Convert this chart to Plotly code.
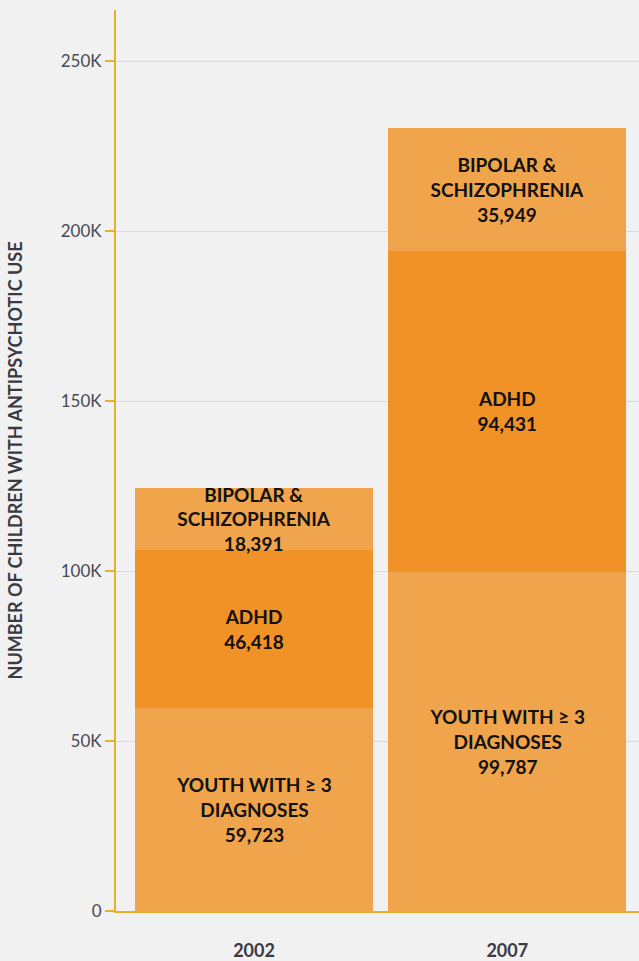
import plotly.graph_objects as go

years = ["2002", "2007"]
youth = [59723, 99787]
adhd = [46418, 94431]
bipolar = [18391, 35949]
tick_vals = [0, 50000, 100000, 150000, 200000, 250000]
tick_text = ["0", "50K", "100K", "150K", "200K", "250K"]

light = "#f0a44b"
dark = "#f09226"
FONT = "Lato"

def fmt(v):
    return f"{v:,}"

series = [
    ("YOUTH WITH ≥ 3<br>DIAGNOSES", youth, light),
    ("ADHD", adhd, dark),
    ("BIPOLAR &<br>SCHIZOPHRENIA", bipolar, light),
]

fig = go.Figure()
for name, vals, col in series:
    fig.add_trace(go.Bar(
        x=years, y=vals, name=name.replace("<br>", " "),
        marker=dict(color=col, line=dict(width=0)),
        text=[f"{name}<br>{fmt(v)}" for v in vals],
        textposition="inside", insidetextanchor="middle",
        constraintext="none",
        textfont=dict(family=FONT, size=19, color="#111111", weight="bold"),
        hoverinfo="skip",
    ))

fig.update_layout(
    barmode="stack", bargap=0.06,
    width=639, height=961,
    margin=dict(l=116, r=0, t=10, b=48),
    paper_bgcolor="#f1f1f1", plot_bgcolor="#f1f1f1",
    showlegend=False,
    uniformtext=dict(mode=False),
)
fig.update_xaxes(
    range=[-0.545, 1.52], showgrid=False,
    showline=True, linecolor="#e6b02a", linewidth=2,
    ticks="", tickfont=dict(family=FONT, size=18, color="#3a3a44", weight="bold"),
    ticklabelstandoff=22,
)
fig.update_yaxes(
    range=[0, 265000], tickvals=tick_vals, ticktext=tick_text,
    showgrid=True, gridcolor="#f2d99a", gridwidth=1,
    zeroline=False,
    showline=True, linecolor="#e6b02a", linewidth=2,
    ticks="outside", ticklen=9, tickwidth=2, tickcolor="#e6b02a",
    tickfont=dict(family=FONT, size=17, color="#4a4a52"),
    title=dict(text="NUMBER OF CHILDREN WITH ANTIPSYCHOTIC USE",
               font=dict(family=FONT, size=18, color="#3a3a44", weight="bold"),
               standoff=33),
)

fig.write_html("out.html", config={"displayModeBar": False},
               post_script="document.body.style.margin='0';")
